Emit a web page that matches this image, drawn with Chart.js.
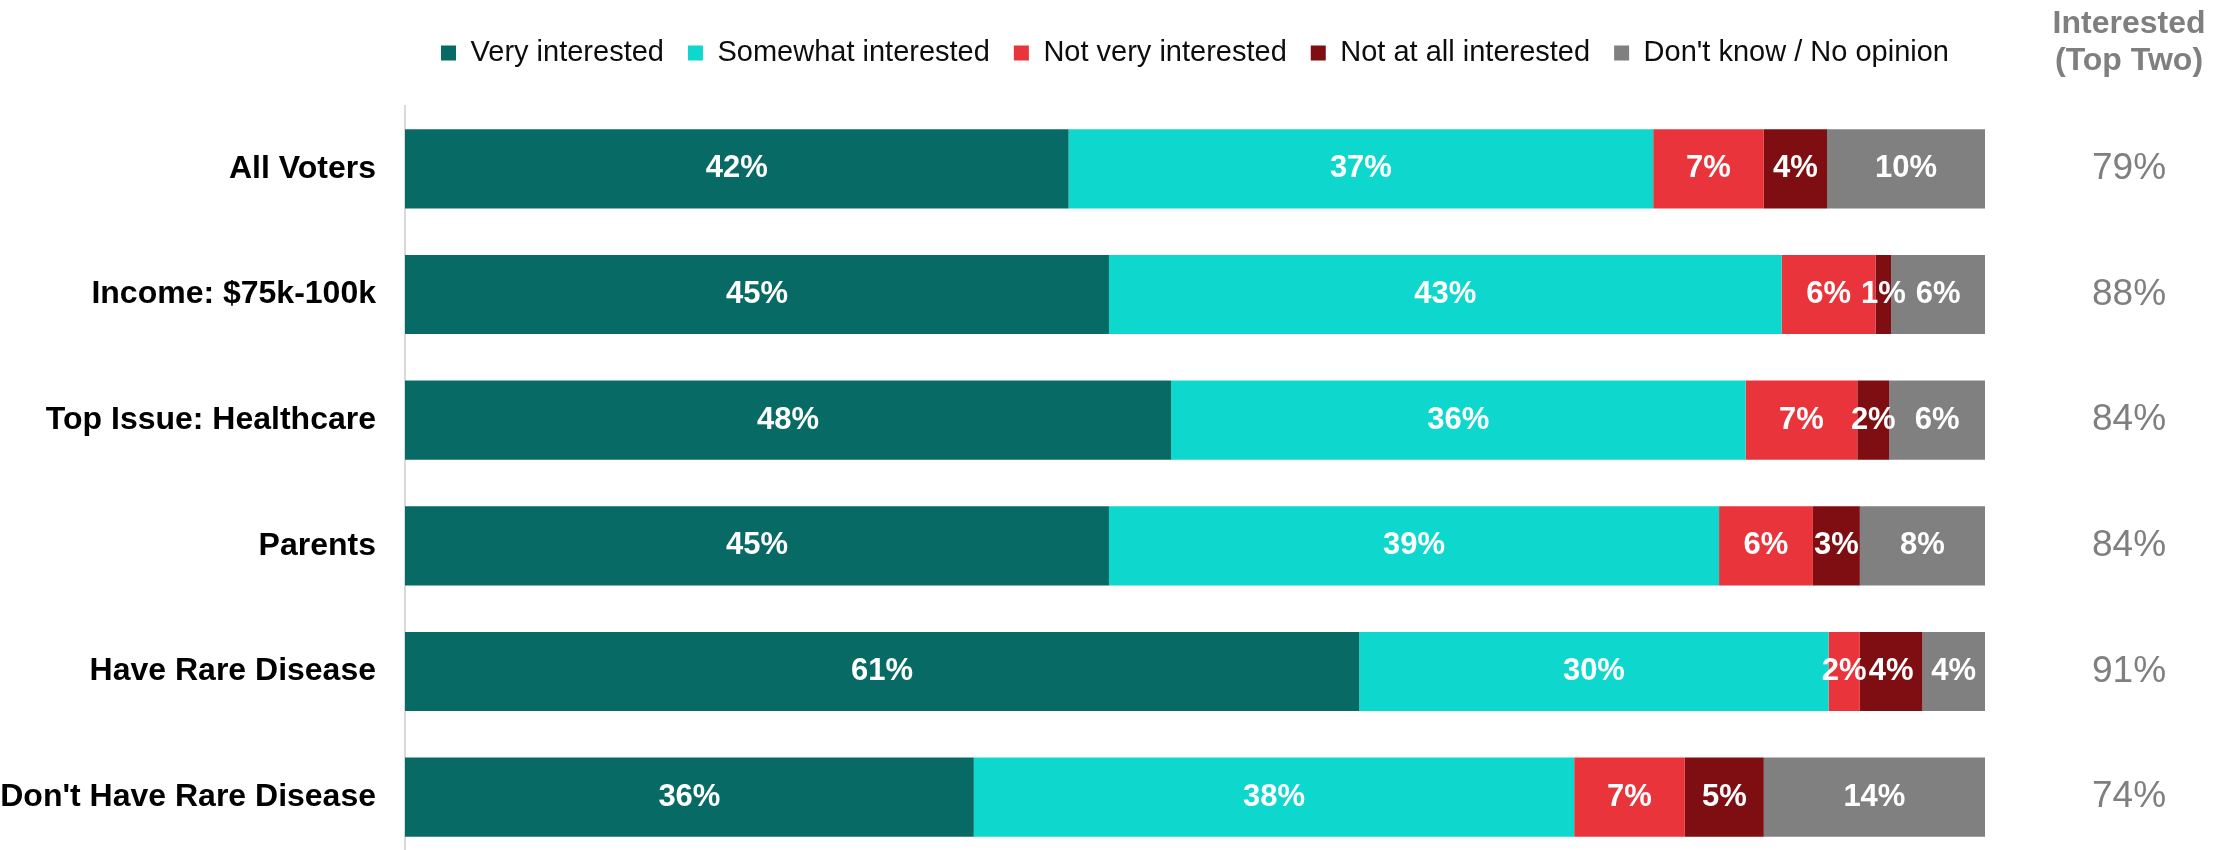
<!DOCTYPE html>
<html>
<head>
<meta charset="utf-8">
<script src="https://cdn.jsdelivr.net/npm/chart.js@4/dist/chart.umd.min.js"></script>
<style>
  html, body { margin: 0; padding: 0; background: #fff; overflow: hidden; }
  canvas { display: block; }
</style>
</head>
<body>
<canvas id="interestChart" width="2216" height="860"></canvas>
<script>
// values as shown on the slide (rounded %)
const categories = ['All Voters', 'Income: $75k-100k', 'Top Issue: Healthcare', 'Parents', 'Have Rare Disease', "Don't Have Rare Disease"];
const veryInterested = [42, 45, 48, 45, 61, 36];
const somewhatInterested = [37, 43, 36, 39, 30, 38];
const notVeryInterested = [7, 6, 7, 6, 2, 7];
const notAtAllInterested = [4, 1, 2, 3, 4, 5];
const dontKnow = [10, 6, 6, 8, 4, 14];
const topTwo = [79, 88, 84, 84, 91, 74];

const seriesNames = ['Very interested', 'Somewhat interested', 'Not very interested', 'Not at all interested', "Don't know / No opinion"];
const seriesValues = [veryInterested, somewhatInterested, notVeryInterested, notAtAllInterested, dontKnow];
const seriesColors = ['#086A65', '#0ED8CD', '#E9343B', '#7E0E12', '#808080'];

const FONT = '"Liberation Sans", Arial, sans-serif';
Chart.defaults.font.family = FONT;

// rounded values don't always add to 100, every bar is drawn full width
const rowTotals = categories.map((_, i) => seriesValues.reduce((s, arr) => s + arr[i], 0));

const datasets = seriesNames.map((name, k) => ({
    label: name,
    data: seriesValues[k].map((v, i) => v * 100 / rowTotals[i]),
    shown: seriesValues[k],
    backgroundColor: seriesColors[k],
    borderWidth: 0,
    barPercentage: 0.63,
    categoryPercentage: 1.0
}));

// white % labels in the middle of each segment
const segmentLabels = {
    id: 'segmentLabels',
    afterDatasetsDraw(chart) {
        const ctx = chart.ctx;
        ctx.save();
        ctx.font = 'bold 31px ' + FONT;
        ctx.fillStyle = '#fff';
        ctx.textAlign = 'center';
        ctx.textBaseline = 'middle';
        chart.data.datasets.forEach((ds, di) => {
            chart.getDatasetMeta(di).data.forEach((bar, i) => {
                const p = bar.getCenterPoint();
                ctx.fillText(ds.shown[i] + '%', p.x, p.y);
            });
        });
        ctx.restore();
    }
};

// header over the right column
const topTwoHeader = {
    id: 'topTwoHeader',
    afterDraw(chart) {
        const s = chart.scales.y2;
        const ctx = chart.ctx;
        ctx.save();
        ctx.font = '37px ' + FONT;
        const cx = s.left + s.options.ticks.padding + ctx.measureText(topTwo[0] + '%').width / 2;
        ctx.font = 'bold 32px ' + FONT;
        ctx.fillStyle = '#7f7f7f';
        ctx.textAlign = 'center';
        ctx.textBaseline = 'alphabetic';
        ctx.fillText('Interested', cx, 33);
        ctx.fillText('(Top Two)', cx, 70);
        ctx.restore();
    }
};

// fixed axis sizes, and no extra label padding eating into the plot
function fixWidth(w) {
    return s => { s.width = w; s.paddingTop = 0; s.paddingBottom = 0; };
}

new Chart(document.getElementById('interestChart'), {
    type: 'bar',
    data: { labels: categories, datasets: datasets },
    options: {
        indexAxis: 'y',
        responsive: false,
        animation: false,
        layout: { padding: { top: 14.5, left: 0, right: 0, bottom: 0 } },
        plugins: {
            tooltip: { enabled: false },
            legend: {
                position: 'top',
                fullSize: false,
                labels: {
                    boxWidth: 15,
                    boxHeight: 15,
                    padding: 24,
                    color: '#0d0d0d',
                    font: { size: 29 }
                }
            }
        },
        scales: {
            x: {
                type: 'linear',
                position: 'top',
                stacked: true,
                min: 0,
                max: 100,
                grid: { display: false, drawTicks: false },
                border: { display: false },
                ticks: { display: false },
                afterFit(s) { s.height = 28.5; s.paddingLeft = 0; s.paddingRight = 0; }
            },
            y: {
                type: 'category',
                stacked: true,
                grid: { display: false, drawTicks: false },
                border: { display: true, color: '#d9d9d9', width: 2 },
                ticks: { color: '#000', padding: 29, font: { size: 32, weight: 'bold' } },
                afterFit: fixWidth(405)
            },
            y2: {
                type: 'category',
                position: 'right',
                labels: topTwo.map(v => v + '%'),
                offset: true,
                grid: { display: false, drawTicks: false },
                border: { display: false },
                ticks: { color: '#7f7f7f', padding: 107, font: { size: 37 } },
                afterFit: fixWidth(231)
            }
        }
    },
    plugins: [segmentLabels, topTwoHeader]
});
</script>
</body>
</html>
